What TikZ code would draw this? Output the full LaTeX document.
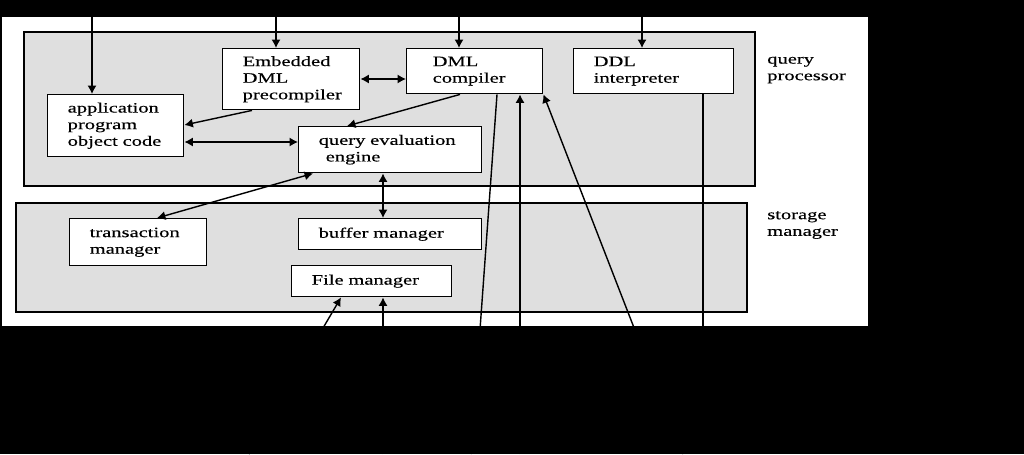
\documentclass[tikz,border=0pt]{standalone}
\usepackage{fontspec}
\setmainfont{Liberation Serif}[FakeStretch=1.43, FakeBold=0.3]
\usetikzlibrary{arrows.meta}
\tikzset{
  box/.style={draw, line width=1pt, fill=white, anchor=north west, align=left,
    inner xsep=0.5cm, inner ysep=0pt, font=\fontsize{10.2}{11.8}\selectfont},
  layer/.style={draw, line width=0.9pt, fill=gray!25},
  side/.style={anchor=west, align=left, inner sep=0pt, font=\fontsize{10.2}{11.8}\selectfont},
  wire/.style={line width=1pt},
  arr/.style={wire, -{Latex[length=6pt,width=6.5pt]}},
  darr/.style={wire, {Latex[length=6pt,width=6.5pt]}-{Latex[length=6pt,width=6.5pt]}}
}
\begin{document}
\begin{tikzpicture}[x=0.025cm, y=-0.025cm]
    \useasboundingbox (0,0) rectangle (1024,454);
    \fill[black] (0,0) rectangle (1024,454);
    \fill[white] (2,17) rectangle (868,326);
    % the two layers
    \draw[layer] (24,32) rectangle (755,186);
    \draw[layer] (16,203) rectangle (747,312);
    \node[side] (qpLabel) at (767,70) {query\\processor};
    \node[side] (smLabel) at (767,225) {storage\\manager};
    % components
    \node[box, text width=2.4cm, minimum height=1.55cm] (app) at (47,94) {application\\program\\object code};
    \node[box, text width=2.425cm, minimum height=1.525cm] (emb) at (222,48) {Embedded\\DML\\precompiler};
    \node[box, inner xsep=0.65cm, text width=2.1cm, minimum height=1.125cm] (dml) at (406,48) {DML\\compiler};
    \node[box, text width=3cm, minimum height=1.125cm] (ddl) at (573,48) {DDL\\interpreter};
    \node[box, text width=3.575cm, minimum height=1.15cm] (qee) at (298,126) {query evaluation\\\hspace*{5pt}engine};
    \node[box, text width=2.425cm, minimum height=1.175cm] (tm) at (69,218) {transaction\\manager};
    \node[box, text width=3.575cm, minimum height=0.775cm] (bm) at (298,218) {buffer manager};
    \node[box, text width=3cm, minimum height=0.775cm] (fm) at (291,265) {File manager};
    % free ends outside the frame
    \coordinate (inApp) at (92,0);
    \coordinate (inEmb) at (276,0);
    \coordinate (inDml) at (459,0);
    \coordinate (inDdl) at (642,0);
    \coordinate (inFmA) at (249,454);
    \coordinate (inFmB) at (383,454);
    \coordinate (outDml) at (471,454);
    \coordinate (inDmlA) at (520,454);
    \coordinate (inDmlB) at (683,454);
    \coordinate (outDdl) at (703,454);
    % connectors
    \draw[arr] (inApp) -- (app.north -| inApp);
    \draw[arr] (inEmb) -- (emb.north -| inEmb);
    \draw[arr] (inDml) -- (dml.north -| inDml);
    \draw[arr] (inDdl) -- (ddl.north -| inDdl);
    \draw[darr] (emb.east |- 0,79) -- (dml.west |- 0,79);
    \draw[arr] (emb.south -| 252,0) -- (app.east |- 0,125);
    \draw[arr] (dml.south -| 460,0) -- (qee.north -| 347,0);
    \draw[darr] (app.east |- 0,142) -- (qee.west |- 0,142);
    \draw[darr] (qee.south -| 313,0) -- (tm.north -| 157,0);
    \draw[darr] (qee.south -| inFmB) -- (bm.north -| inFmB);
    \draw[arr] (inFmA) -- (fm.south -| 341,0);
    \draw[arr] (inFmB) -- (fm.south -| inFmB);
    \draw[wire] (dml.south -| 497,0) -- (outDml);
    \draw[arr] (inDmlA) -- (dml.south -| inDmlA);
    \draw[arr] (inDmlB) -- (dml.south east);
    \draw[wire] (ddl.south -| outDdl) -- (outDdl);
\end{tikzpicture}
\end{document}
